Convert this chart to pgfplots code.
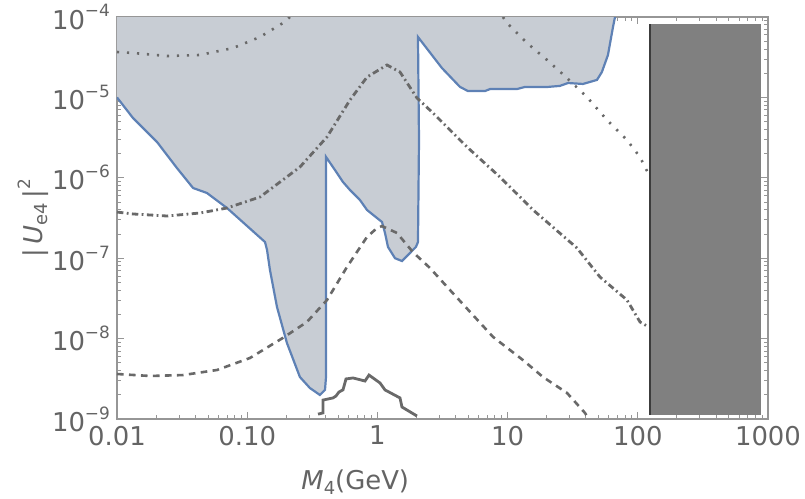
\documentclass[border=0pt]{standalone}
\usepackage{fontspec}
\setmainfont{DejaVu Sans}
\usepackage{pgfplots}
\pgfplotsset{compat=1.18}
\usepackage{pgfplotstable}
\definecolor{txtgray}{RGB}{100,100,100}
\definecolor{framegray}{RGB}{150,150,150}
\definecolor{mblue}{RGB}{94,129,181}
\definecolor{shade}{RGB}{200,205,212}
\definecolor{curvegray}{RGB}{105,105,105}
\definecolor{blockgray}{RGB}{128,128,128}
\definecolor{edgegray}{RGB}{60,60,60}
\newcommand{\sups}[1]{\raisebox{0.85ex}{\fontsize{8.5}{8.5}\selectfont #1}}
\newcommand{\subs}[1]{\raisebox{-0.35ex}{\fontsize{9}{9}\selectfont #1}}

% excluded region: first row is the top-left corner, the rest is the blue boundary
\pgfplotstableread{
x y
0.01 1e-4
0.01 1e-5
0.01327 5.54e-6
0.0203 2.79e-6
0.0289 1.32e-6
0.0384 7.47e-7
0.0491 6.47e-7
0.070 4.21e-7
0.137 1.59e-7
0.142 1.27e-7
0.1496 7.13e-8
0.1694 2.47e-8
0.202 8.81e-9
0.254 3.33e-9
0.303 2.43e-9
0.362 1.99e-9
0.396 2.30e-9
0.403 3.33e-9
0.403 1.82e-6
0.472 1.25e-6
0.544 8.87e-7
0.616 7.05e-7
0.735 5.29e-7
0.832 3.98e-7
1.085 2.82e-7
1.144 2.06e-7
1.206 1.38e-7
1.365 1.0e-7
1.545 9.22e-8
1.778 1.16e-7
1.977 1.38e-7
2.05 1.59e-7
2.087 2.95e-6
2.05 5.64e-5
3.13 2.32e-5
4.31 1.35e-5
4.96 1.20e-5
6.71 1.20e-5
7.33 1.27e-5
11.8 1.27e-5
13.6 1.35e-5
17.7 1.35e-5
20.4 1.35e-5
25.2 1.39e-5
29.1 1.51e-5
37.9 1.47e-5
48.6 1.65e-5
53.0 2.07e-5
59.0 3.37e-5
64.5 7.51e-5
66.8 1e-4
}\bound

\begin{document}
\begin{tikzpicture}
\begin{axis}[
  at={(0,0)}, anchor=south west,
  scale only axis, width=325.5bp, height=201bp,
  xmode=log, ymode=log,
  xmin=0.01, xmax=1000, ymin=1e-9, ymax=1e-4,
  xtick={0.01,0.1,1,10,100,1000},
  xticklabels={0.01,0.10,1,10,100,1000},
  minor xtick={0.02,0.03,0.04,0.05,0.06,0.07,0.08,0.09,0.2,0.3,0.4,0.5,0.6,0.7,0.8,0.9,2,3,4,5,6,7,8,9,20,30,40,50,60,70,80,90,200,300,400,500,600,700,800,900},
  ytick={1e-9,1e-8,1e-7,1e-6,1e-5,1e-4},
  yticklabels={10\sups{−9},10\sups{−8},10\sups{−7},10\sups{−6},10\sups{−5},10\sups{−4}},
  minor ytick={2e-9,3e-9,4e-9,5e-9,6e-9,7e-9,8e-9,9e-9,2e-8,3e-8,4e-8,5e-8,6e-8,7e-8,8e-8,9e-8,2e-7,3e-7,4e-7,5e-7,6e-7,7e-7,8e-7,9e-7,2e-6,3e-6,4e-6,5e-6,6e-6,7e-6,8e-6,9e-6,2e-5,3e-5,4e-5,5e-5,6e-5,7e-5,8e-5,9e-5},
  tick align=inside,
  major tick length=3.5bp, minor tick length=2bp,
  axis line style={framegray, line width=0.6bp},
  tick style={framegray, line width=0.5bp},
  tick label style={font=\fontsize{13}{13}\selectfont, text=txtgray},
  label style={font=\fontsize{13}{13}\selectfont, text=txtgray},
  xlabel={\textit{M}\subs{4}(GeV)},
  ylabel={|\,\textit{U}\subs{e4}\,|\sups{2}},
  xlabel style={at={(axis description cs:0.366,-0.176)}, anchor=base},
  ylabel style={at={(axis description cs:-0.115,0.5)}, anchor=base},
]
% shaded region and its boundary
\addplot[fill=shade, draw=none] table {\bound};
\addplot[mblue, line width=1.1bp, skip coords between index={0}{1}] table {\bound};

% dotted curve
\addplot[curvegray, line width=1.3bp, dash pattern=on 1.1bp off 3.9bp] coordinates {
(0.01,3.67e-5) (0.01327,3.57e-5) (0.0242,3.27e-5) (0.0434,3.37e-5) (0.0778,4.11e-5)
(0.1254,5.64e-5) (0.188,8.42e-5) (0.213,1e-4)};
\addplot[curvegray, line width=1.3bp, dash pattern=on 1.1bp off 3.9bp] coordinates {
(9.21,1e-4) (9.89,8.42e-5) (14.1,4.75e-5) (20.1,2.92e-5) (28.6,1.74e-5) (40.7,1.01e-5)
(58.0,5.24e-6) (82.6,2.95e-6) (104,1.81e-6) (119.7,1.15e-6)};

% dash-dotted curve
\addplot[curvegray, line width=1.4bp, dash pattern=on 3.2bp off 1.7bp on 0.9bp off 1.7bp] coordinates {
(0.01,3.75e-7) (0.01327,3.55e-7) (0.0242,3.35e-7) (0.0434,3.65e-7) (0.070,4.21e-7)
(0.1254,5.77e-7) (0.254,1.36e-6) (0.410,3.22e-6) (0.616,9.29e-6) (0.832,1.79e-5)
(1.185,2.53e-5) (1.491,2.07e-5) (2.013,9.83e-6) (2.673,6.40e-6) (4.875,2.42e-6)
(8.75,1.02e-6) (15.7,3.98e-7) (34.1,1.34e-7) (51.2,5.84e-8) (82.6,3.02e-8)
(104,1.61e-8) (121.8,1.39e-8)};

% dashed curve
\addplot[curvegray, line width=1.3bp, dash pattern=on 3.3bp off 2.7bp] coordinates {
(0.01,3.63e-9) (0.0179,3.43e-9) (0.0321,3.52e-9) (0.0586,4.07e-9) (0.105,5.74e-9)
(0.188,1.02e-8) (0.2876,1.61e-8) (0.410,3.02e-8) (0.584,7.78e-8) (0.832,1.84e-7)
(0.993,2.37e-7) (1.085,2.51e-7) (1.414,2.06e-7) (1.875,1.19e-7) (2.535,7.55e-8)
(3.61,4.02e-8) (7.73,1.05e-8) (13.1,5.42e-9) (18.7,3.33e-9) (28.6,2.11e-9)
(39.3,1.19e-9) (40.5,1.1e-9)};

% solid gray curve at the bottom
\addplot[curvegray, line width=1.4bp] coordinates {
(0.3497,1.15e-9) (0.382,1.19e-9) (0.382,1.72e-9) (0.456,1.83e-9) (0.4805,1.93e-9)
(0.507,2.17e-9) (0.544,2.30e-9) (0.574,3.15e-9) (0.649,3.24e-9) (0.803,2.97e-9)
(0.862,3.52e-9) (1.047,2.81e-9) (1.144,2.30e-9) (1.491,1.83e-9) (1.545,1.41e-9)
(2.013,1.09e-9)};

% dark block
\addplot[fill=blockgray, draw=none] coordinates {
(124,1.12e-9) (124,8.2e-5) (880,8.2e-5) (880,1.12e-9)} -- cycle;
\addplot[edgegray, line width=1.2bp] coordinates {(124,1.12e-9) (124,8.2e-5)};
\end{axis}
\pgfresetboundingbox
\path[use as bounding box] (-58.5bp,-40bp) rectangle (344bp,209.5bp);
\end{tikzpicture}
\end{document}
